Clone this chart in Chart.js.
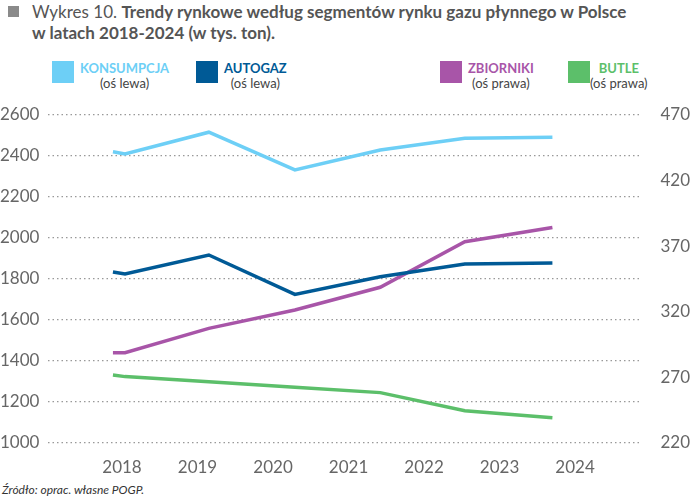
<!DOCTYPE html>
<html><head><meta charset="utf-8">
<script src="https://cdn.jsdelivr.net/npm/chart.js@4/dist/chart.umd.min.js"></script>
<style>
body{margin:0;width:690px;height:500px;position:relative;font-family:Lato,sans-serif;background:#fff;overflow:hidden}
#c{position:absolute;left:0;top:0}
.t{position:absolute;left:32px;top:1px;font-size:17px;color:#555;line-height:21px}
.t b{font-weight:700;color:#555}
.sq{position:absolute;left:8px;top:6px;width:11px;height:11px;background:#8a8a8a}
.lg{position:absolute;top:61px;font-size:13px;line-height:15px;text-align:center}
.lg i{position:absolute;width:22px;height:22px;top:0}
.lg .n{font-weight:700}
.lg .s{color:#444}
.src{position:absolute;left:2px;top:482px;font-size:12px;font-style:italic;color:#333}
</style></head><body>
<div class="sq"></div>
<div class="t">Wykres 10. <b>Trendy rynkowe według segmentów rynku gazu płynnego w Polsce<br>w latach 2018-2024 (w tys. ton).</b></div>
<div class="lg" style="left:52px"><i style="background:#6dcff6;left:0"></i><div style="margin-left:28px"><div class="n" style="color:#6dcff6">KONSUMPCJA</div><div class="s">(oś lewa)</div></div></div>
<div class="lg" style="left:196px"><i style="background:#005a96;left:0"></i><div style="margin-left:28px"><div class="n" style="color:#005a96">AUTOGAZ</div><div class="s">(oś lewa)</div></div></div>
<div class="lg" style="left:440px"><i style="background:#a855a8;left:0"></i><div style="margin-left:28px"><div class="n" style="color:#a855a8">ZBIORNIKI</div><div class="s">(oś prawa)</div></div></div>
<div class="lg" style="left:568px"><i style="background:#5cbf6a;left:0"></i><div style="margin-left:22px"><div class="n" style="color:#5cbf6a">BUTLE</div><div class="s">(oś prawa)</div></div></div>
<div class="src">Źródło: oprac. własne POGP.</div>
<canvas id="c" width="690" height="500"></canvas>
<script>
const yearTicks=[2018,2019,2020,2021,2022,2023,2024];
const leftTicks=[1000,1200,1400,1600,1800,2000,2200,2400,2600];
const rightTicks=[220,270,320,370,420,470];
const xPos=[2017.88,2018.04,2019.15,2020.29,2021.42,2022.54,2023.70];
const konsumpcja=[2421,2410,2516,2332,2429,2486,2491];
const autogaz=[1834,1824,1917,1725,1811,1873,1878];
const zbiorniki=[288.8,288.8,307.4,321.4,338.7,373.4,384.3];
const butle=[271.8,270.6,266.7,262.5,258.4,244.6,239.3];
const pts=a=>a.map((v,i)=>({x:xPos[i],y:v}));
const ds=(d,c,ax)=>({data:pts(d),borderColor:c,borderWidth:3.5,pointRadius:0,yAxisID:ax,tension:0,fill:false});
new Chart(document.getElementById('c'),{type:'line',
data:{datasets:[ds(konsumpcja,'#6dcff6','yL'),ds(autogaz,'#005a96','yL'),ds(zbiorniki,'#a855a8','yR'),ds(butle,'#5cbf6a','yR')]},
options:{responsive:false,animation:false,
layout:{padding:{top:115,bottom:27,left:0,right:0}},
plugins:{legend:{display:false},tooltip:{enabled:false}},
scales:{
x:{type:'linear',min:2017.02,max:2024.86,afterBuildTicks:s=>{s.ticks=yearTicks.map(v=>({value:v}))},
 ticks:{callback:v=>String(v),color:'#666',font:{family:'Lato',size:17},padding:6,maxRotation:0},
 grid:{display:false},border:{display:false},afterFit:s=>{s.height=30}},
yL:{position:'left',min:1000,max:2600,afterBuildTicks:s=>{s.ticks=leftTicks.map(v=>({value:v}))},
 ticks:{callback:v=>String(v),color:'#666',font:{family:'Lato',size:17},crossAlign:'far',padding:4},
 grid:{color:'#999',lineWidth:1.2,drawTicks:false},border:{display:false,dash:[1.5,3]},afterFit:s=>{s.width=48}},
yR:{position:'right',min:220,max:470,afterBuildTicks:s=>{s.ticks=rightTicks.map(v=>({value:v}))},
 ticks:{callback:v=>String(v),color:'#666',font:{family:'Lato',size:17},crossAlign:'far'},
 grid:{display:false},border:{display:false},afterFit:s=>{s.width=50}}
}}});
</script></body></html>
